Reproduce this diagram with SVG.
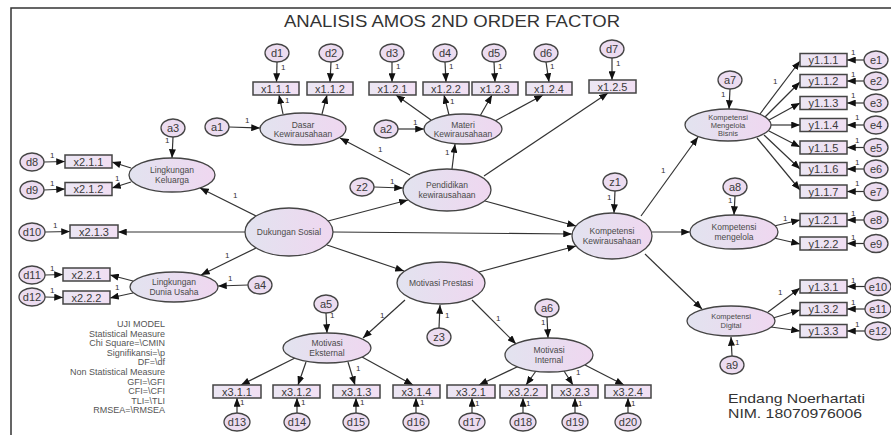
<svg xmlns="http://www.w3.org/2000/svg" width="891" height="435" viewBox="0 0 891 435">
<defs>
<linearGradient id="eg" x1="0" y1="0" x2="1" y2="0"><stop offset="0" stop-color="#e2e3ef"/><stop offset="1" stop-color="#efd7f0"/></linearGradient>
<linearGradient id="bg" x1="0" y1="0" x2="1" y2="0"><stop offset="0" stop-color="#ebe6f3"/><stop offset="1" stop-color="#f1dff3"/></linearGradient>
<marker id="ah" viewBox="0 0 10 8" refX="10" refY="4" markerWidth="9" markerHeight="7" markerUnits="userSpaceOnUse" orient="auto"><path d="M0,0 L10,4 L0,8 z" fill="#111"/></marker>
<style>
.box{fill:url(#bg);stroke:#444;stroke-width:1.5}
.lat{fill:url(#eg);stroke:#444;stroke-width:1.3}
.err{fill:#ecdcf0;stroke:#444;stroke-width:1.3}
.bt{font-family:"Liberation Sans",Arial,sans-serif;font-size:11px;fill:#3a3a3a;text-anchor:middle}
.ct{font-family:"Liberation Sans",Arial,sans-serif;font-size:11px;fill:#3a3a3a;text-anchor:middle}
.lt{font-family:"Liberation Sans",Arial,sans-serif;font-size:8.5px;fill:#4a4a4a;text-anchor:middle}
.st{font-family:"Liberation Sans",Arial,sans-serif;font-size:7.5px;fill:#4a4a4a;text-anchor:middle}
.one{font-family:"Liberation Sans",Arial,sans-serif;font-size:8px;fill:#333}
.info{font-family:"Liberation Sans",Arial,sans-serif;font-size:9px;fill:#555;text-anchor:end}
#connectors line{stroke:#333;stroke-width:1.2;marker-end:url(#ah)}
</style>
</defs>
<rect width="891" height="435" fill="#fff"/>
<path d="M11,435 L11,8 L891,8" fill="none" stroke="#333" stroke-width="1.5"/>
<text x="452" y="27" font-family="Liberation Sans,Arial,sans-serif" font-size="16.5" fill="#333" text-anchor="middle" textLength="336" lengthAdjust="spacingAndGlyphs">ANALISIS AMOS 2ND ORDER FACTOR</text>

<g id="connectors">
<line x1="277" y1="62" x2="276.5" y2="82"/>
<line x1="331" y1="62" x2="330" y2="82"/>
<line x1="283" y1="114" x2="279" y2="95"/>
<line x1="322" y1="114" x2="327" y2="95"/>
<line x1="229" y1="127" x2="260" y2="128"/>
<line x1="392" y1="62" x2="392" y2="82"/>
<line x1="445" y1="62" x2="446" y2="82"/>
<line x1="494" y1="62" x2="495" y2="82"/>
<line x1="546" y1="62" x2="549" y2="82"/>
<line x1="612" y1="58" x2="612" y2="80"/>
<line x1="431" y1="120" x2="396" y2="95"/>
<line x1="449" y1="115" x2="444" y2="95"/>
<line x1="480" y1="116" x2="492" y2="95"/>
<line x1="495" y1="121" x2="543" y2="95"/>
<line x1="484" y1="176" x2="608" y2="93"/>
<line x1="398" y1="129" x2="424" y2="129"/>
<line x1="410" y1="175" x2="340" y2="138"/>
<line x1="452" y1="169" x2="455" y2="144"/>
<line x1="374" y1="187" x2="403" y2="188"/>
<line x1="328" y1="221" x2="408" y2="200"/>
<line x1="333" y1="232" x2="572" y2="234"/>
<line x1="327" y1="245" x2="404" y2="271"/>
<line x1="256" y1="216" x2="200" y2="188"/>
<line x1="256" y1="248" x2="201" y2="275"/>
<line x1="245" y1="232" x2="118" y2="232"/>
<line x1="131" y1="168" x2="112" y2="162"/>
<line x1="131" y1="182" x2="112" y2="188"/>
<line x1="173" y1="137" x2="172" y2="158"/>
<line x1="44" y1="162" x2="65" y2="161.5"/>
<line x1="44" y1="190" x2="65" y2="189"/>
<line x1="45" y1="232" x2="70" y2="231.5"/>
<line x1="45" y1="275" x2="63" y2="274.5"/>
<line x1="45" y1="297" x2="63" y2="297.5"/>
<line x1="133" y1="281" x2="110" y2="275"/>
<line x1="133" y1="293" x2="110" y2="298"/>
<line x1="248" y1="285" x2="218" y2="286"/>
<line x1="485" y1="201" x2="576" y2="226"/>
<line x1="479" y1="272" x2="576" y2="246"/>
<line x1="615" y1="191" x2="614" y2="213"/>
<line x1="641" y1="216" x2="698" y2="137"/>
<line x1="652" y1="232" x2="690" y2="232"/>
<line x1="645" y1="254" x2="702" y2="309"/>
<line x1="760" y1="114" x2="800" y2="61"/>
<line x1="765" y1="117" x2="800" y2="82"/>
<line x1="769" y1="120" x2="800" y2="103"/>
<line x1="771" y1="125" x2="800" y2="125"/>
<line x1="769" y1="131" x2="800" y2="147"/>
<line x1="764" y1="135" x2="800" y2="169"/>
<line x1="757" y1="138" x2="800" y2="190"/>
<line x1="730" y1="89" x2="729" y2="109"/>
<line x1="864" y1="60" x2="847" y2="60"/>
<line x1="864" y1="81" x2="847" y2="81"/>
<line x1="864" y1="103" x2="847" y2="103"/>
<line x1="864" y1="125" x2="847" y2="125"/>
<line x1="864" y1="147.5" x2="847" y2="147.5"/>
<line x1="864" y1="169" x2="847" y2="169"/>
<line x1="864" y1="191.5" x2="847" y2="191.5"/>
<line x1="735" y1="196" x2="734" y2="215"/>
<line x1="774" y1="226" x2="800" y2="220"/>
<line x1="774" y1="238" x2="800" y2="244"/>
<line x1="864" y1="220" x2="847" y2="220"/>
<line x1="864" y1="243.5" x2="847" y2="243.5"/>
<line x1="768" y1="312" x2="800" y2="288"/>
<line x1="773" y1="318" x2="800" y2="310"/>
<line x1="771" y1="327" x2="800" y2="331"/>
<line x1="732" y1="356" x2="731" y2="337"/>
<line x1="865" y1="286.5" x2="847" y2="286.5"/>
<line x1="865" y1="309" x2="847" y2="309"/>
<line x1="865" y1="331" x2="847" y2="331"/>
<line x1="405" y1="300" x2="363" y2="338"/>
<line x1="472" y1="300" x2="516" y2="344"/>
<line x1="439" y1="328" x2="440" y2="305"/>
<line x1="326" y1="313" x2="327" y2="333"/>
<line x1="547" y1="317" x2="548" y2="338"/>
<line x1="295" y1="358" x2="241" y2="385"/>
<line x1="306" y1="362" x2="298" y2="385"/>
<line x1="348" y1="362" x2="355" y2="385"/>
<line x1="362" y1="357" x2="413" y2="385"/>
<line x1="519" y1="366" x2="479" y2="385"/>
<line x1="536" y1="371" x2="526" y2="385"/>
<line x1="564" y1="371" x2="573" y2="385"/>
<line x1="585" y1="365" x2="624" y2="385"/>
<line x1="237" y1="413" x2="237" y2="398"/>
<line x1="297" y1="413" x2="297" y2="398"/>
<line x1="356" y1="413" x2="356" y2="398"/>
<line x1="416" y1="413" x2="416" y2="398"/>
<line x1="472" y1="413" x2="472" y2="398"/>
<line x1="523" y1="413" x2="523" y2="398"/>
<line x1="575" y1="413" x2="575" y2="398"/>
<line x1="628" y1="413" x2="628" y2="398"/>
</g>

<g id="labels-1" class="one">
<text x="281" y="70">1</text><text x="285" y="103">1</text><text x="335" y="69">1</text>
<text x="396" y="69">1</text><text x="449" y="69">1</text><text x="498" y="69">1</text><text x="550" y="69">1</text><text x="616" y="66">1</text>
<text x="450" y="104">1</text><text x="413" y="125">1</text><text x="245" y="123">1</text>
<text x="378" y="152">1</text><text x="445" y="155">1</text><text x="390" y="184">1</text>
<text x="165" y="143">1</text><text x="50" y="158">1</text><text x="115" y="181">1</text><text x="50" y="186">1</text>
<text x="53" y="228">1</text><text x="50" y="271">1</text><text x="50" y="293">1</text>
<text x="233" y="198">1</text><text x="225" y="258">1</text><text x="115" y="290">1</text><text x="228" y="281">1</text>
<text x="607" y="200">1</text><text x="661" y="173">1</text><text x="721" y="97">1</text><text x="773" y="84">1</text>
<text x="851" y="55">1</text><text x="851" y="77">1</text><text x="851" y="98">1</text><text x="855" y="120">1</text>
<text x="855" y="143">1</text><text x="855" y="165">1</text><text x="855" y="186">1</text><text x="851" y="216">1</text>
<text x="851" y="240">1</text><text x="851" y="283">1</text><text x="851" y="305">1</text><text x="855" y="327">1</text>
<text x="728" y="203">1</text><text x="783" y="221">1</text><text x="778" y="295">1</text><text x="735" y="345">1</text>
<text x="380" y="318">1</text><text x="496" y="321">1</text><text x="445" y="318">1</text><text x="330" y="318">1</text>
<text x="541" y="325">1</text><text x="356" y="371">1</text><text x="576" y="375">1</text>
<text x="240" y="405">1</text><text x="301" y="405">1</text><text x="360" y="405">1</text><text x="420" y="405">1</text>
<text x="475" y="406">1</text><text x="526" y="406">1</text><text x="578" y="406">1</text><text x="631" y="406">1</text>
</g>

<g id="x1.1.1"><rect class="box" x="253" y="82" width="46" height="13"/><text class="bt" x="276" y="92.5">x1.1.1</text></g>
<g id="x1.1.2"><rect class="box" x="307" y="82" width="46" height="13"/><text class="bt" x="330" y="92.5">x1.1.2</text></g>
<g id="x1.2.1"><rect class="box" x="369" y="82" width="47" height="13"/><text class="bt" x="392.5" y="92.5">x1.2.1</text></g>
<g id="x1.2.2"><rect class="box" x="423" y="82" width="46" height="13"/><text class="bt" x="446" y="92.5">x1.2.2</text></g>
<g id="x1.2.3"><rect class="box" x="472" y="82" width="46" height="13"/><text class="bt" x="495" y="92.5">x1.2.3</text></g>
<g id="x1.2.4"><rect class="box" x="526" y="82" width="46" height="13"/><text class="bt" x="549" y="92.5">x1.2.4</text></g>
<g id="x1.2.5"><rect class="box" x="589" y="80" width="47" height="13"/><text class="bt" x="612.5" y="90.5">x1.2.5</text></g>

<g id="x2.1.1"><rect class="box" x="65" y="155" width="47" height="13"/><text class="bt" x="88.5" y="165.5">x2.1.1</text></g>
<g id="x2.1.2"><rect class="box" x="65" y="182.5" width="47" height="13"/><text class="bt" x="88.5" y="193">x2.1.2</text></g>
<g id="x2.1.3"><rect class="box" x="70" y="225" width="48" height="13"/><text class="bt" x="94" y="235.5">x2.1.3</text></g>
<g id="x2.2.1"><rect class="box" x="63" y="268" width="47" height="13"/><text class="bt" x="86.5" y="278.5">x2.2.1</text></g>
<g id="x2.2.2"><rect class="box" x="63" y="291" width="47" height="13"/><text class="bt" x="86.5" y="301.5">x2.2.2</text></g>

<g id="x3.1.1"><rect class="box" x="213" y="385" width="48" height="13"/><text class="bt" x="237" y="395.5">x3.1.1</text></g>
<g id="x3.1.2"><rect class="box" x="273" y="385" width="47" height="13"/><text class="bt" x="296.5" y="395.5">x3.1.2</text></g>
<g id="x3.1.3"><rect class="box" x="333" y="385" width="47" height="13"/><text class="bt" x="356.5" y="395.5">x3.1.3</text></g>
<g id="x3.1.4"><rect class="box" x="393" y="385" width="47" height="13"/><text class="bt" x="416.5" y="395.5">x3.1.4</text></g>
<g id="x3.2.1"><rect class="box" x="447" y="385" width="48" height="13"/><text class="bt" x="471" y="395.5">x3.2.1</text></g>
<g id="x3.2.2"><rect class="box" x="500" y="385" width="47" height="13"/><text class="bt" x="523.5" y="395.5">x3.2.2</text></g>
<g id="x3.2.3"><rect class="box" x="552" y="385" width="46" height="13"/><text class="bt" x="575" y="395.5">x3.2.3</text></g>
<g id="x3.2.4"><rect class="box" x="605" y="385" width="46" height="13"/><text class="bt" x="628" y="395.5">x3.2.4</text></g>

<g id="y1.1.1"><rect class="box" x="800" y="53.5" width="47" height="13"/><text class="bt" x="823.5" y="64">y1.1.1</text></g>
<g id="y1.1.2"><rect class="box" x="800" y="74.5" width="47" height="13"/><text class="bt" x="823.5" y="85">y1.1.2</text></g>
<g id="y1.1.3"><rect class="box" x="800" y="96.5" width="47" height="13"/><text class="bt" x="823.5" y="107">y1.1.3</text></g>
<g id="y1.1.4"><rect class="box" x="800" y="118.5" width="47" height="13"/><text class="bt" x="823.5" y="129">y1.1.4</text></g>
<g id="y1.1.5"><rect class="box" x="800" y="141" width="47" height="13"/><text class="bt" x="823.5" y="151.5">y1.1.5</text></g>
<g id="y1.1.6"><rect class="box" x="800" y="162.5" width="47" height="13"/><text class="bt" x="823.5" y="173">y1.1.6</text></g>
<g id="y1.1.7"><rect class="box" x="800" y="185" width="47" height="13"/><text class="bt" x="823.5" y="195.5">y1.1.7</text></g>
<g id="y1.2.1"><rect class="box" x="800" y="213.5" width="47" height="13"/><text class="bt" x="823.5" y="224">y1.2.1</text></g>
<g id="y1.2.2"><rect class="box" x="800" y="237" width="47" height="13"/><text class="bt" x="823.5" y="247.5">y1.2.2</text></g>
<g id="y1.3.1"><rect class="box" x="800" y="280" width="47" height="13"/><text class="bt" x="823.5" y="290.5">y1.3.1</text></g>
<g id="y1.3.2"><rect class="box" x="800" y="302.5" width="47" height="13"/><text class="bt" x="823.5" y="313">y1.3.2</text></g>
<g id="y1.3.3"><rect class="box" x="800" y="324.5" width="47" height="13"/><text class="bt" x="823.5" y="335">y1.3.3</text></g>

<g id="DasarKewirausahaan"><ellipse class="lat" cx="303" cy="129" rx="43" ry="16"/><text class="lt" x="303" y="127.5">Dasar</text><text class="lt" x="303" y="137">Kewirausahaan</text></g>
<g id="MateriKewirausahaan"><ellipse class="lat" cx="463" cy="129" rx="39" ry="15"/><text class="lt" x="463" y="127.5">Materi</text><text class="lt" x="463" y="137">Kewirausahaan</text></g>
<g id="PendidikanKewirausahaan"><ellipse class="lat" cx="447" cy="190" rx="44" ry="21"/><text class="lt" x="447" y="188">Pendidikan</text><text class="lt" x="447" y="197.5">kewirausahaan</text></g>
<g id="DukunganSosial"><ellipse class="lat" cx="289" cy="232" rx="44" ry="24"/><text class="lt" x="289" y="235">Dukungan Sosial</text></g>
<g id="LingkunganKeluarga"><ellipse class="lat" cx="172" cy="175" rx="43" ry="17"/><text class="lt" x="172" y="173">Lingkungan</text><text class="lt" x="172" y="182.5">Keluarga</text></g>
<g id="LingkunganDuniaUsaha"><ellipse class="lat" cx="174" cy="287" rx="44" ry="15"/><text class="lt" x="174" y="285">Lingkungan</text><text class="lt" x="174" y="294.5">Dunia Usaha</text></g>
<g id="MotivasiPrestasi"><ellipse class="lat" cx="441" cy="283" rx="44" ry="21"/><text class="lt" x="441" y="286">Motivasi Prestasi</text></g>
<g id="MotivasiEksternal"><ellipse class="lat" cx="327" cy="348" rx="44" ry="15"/><text class="lt" x="327" y="346">Motivasi</text><text class="lt" x="327" y="355.5">Eksternal</text></g>
<g id="MotivasiInternal"><ellipse class="lat" cx="549" cy="355" rx="44" ry="17"/><text class="lt" x="549" y="353">Motivasi</text><text class="lt" x="549" y="362.5">Internal</text></g>
<g id="KompetensiKewirausahaan"><ellipse class="lat" cx="612" cy="236" rx="40" ry="23"/><text class="lt" x="612" y="234">Kompetensi</text><text class="lt" x="612" y="243.5">Kewirausahaan</text></g>
<g id="KompetensiMengelolaBisnis"><ellipse class="lat" cx="728" cy="125" rx="43" ry="16"/><text class="st" x="728" y="120">Kompetensi</text><text class="st" x="728" y="128">Mengelola</text><text class="st" x="728" y="136">Bisnis</text></g>
<g id="KompetensiMengelola"><ellipse class="lat" cx="734" cy="232" rx="44" ry="17"/><text class="lt" x="734" y="230">Kompetensi</text><text class="lt" x="734" y="239.5">mengelola</text></g>
<g id="KompetensiDigital"><ellipse class="lat" cx="731" cy="321" rx="44" ry="15"/><text class="st" x="731" y="319">Kompetensi</text><text class="st" x="731" y="328">Digital</text></g>

<g id="d1"><ellipse class="err" cx="277" cy="53" rx="12" ry="9"/><text class="ct" x="277" y="57">d1</text></g>
<g id="d2"><ellipse class="err" cx="331" cy="53" rx="12" ry="9"/><text class="ct" x="331" y="57">d2</text></g>
<g id="d3"><ellipse class="err" cx="392" cy="53" rx="12" ry="9"/><text class="ct" x="392" y="57">d3</text></g>
<g id="d4"><ellipse class="err" cx="445" cy="53" rx="12" ry="9"/><text class="ct" x="445" y="57">d4</text></g>
<g id="d5"><ellipse class="err" cx="494" cy="53" rx="12" ry="9"/><text class="ct" x="494" y="57">d5</text></g>
<g id="d6"><ellipse class="err" cx="546" cy="53" rx="12" ry="9"/><text class="ct" x="546" y="57">d6</text></g>
<g id="d7"><ellipse class="err" cx="612" cy="49" rx="12" ry="9"/><text class="ct" x="612" y="53">d7</text></g>
<g id="a1"><ellipse class="err" cx="217" cy="127" rx="12" ry="9"/><text class="ct" x="217" y="131">a1</text></g>
<g id="a2"><ellipse class="err" cx="386" cy="129" rx="12" ry="9"/><text class="ct" x="386" y="133">a2</text></g>
<g id="a3"><ellipse class="err" cx="173" cy="128" rx="12" ry="9"/><text class="ct" x="173" y="132">a3</text></g>
<g id="a4"><ellipse class="err" cx="260" cy="285" rx="12" ry="9"/><text class="ct" x="260" y="289">a4</text></g>
<g id="a5"><ellipse class="err" cx="326" cy="304" rx="12" ry="9"/><text class="ct" x="326" y="308">a5</text></g>
<g id="a6"><ellipse class="err" cx="547" cy="308" rx="12" ry="9"/><text class="ct" x="547" y="312">a6</text></g>
<g id="a7"><ellipse class="err" cx="730" cy="80" rx="12" ry="9"/><text class="ct" x="730" y="84">a7</text></g>
<g id="a8"><ellipse class="err" cx="735" cy="187" rx="12" ry="9"/><text class="ct" x="735" y="191">a8</text></g>
<g id="a9"><ellipse class="err" cx="732" cy="365" rx="12" ry="9"/><text class="ct" x="732" y="369">a9</text></g>
<g id="z1"><ellipse class="err" cx="615" cy="182" rx="12" ry="9"/><text class="ct" x="615" y="186">z1</text></g>
<g id="z2"><ellipse class="err" cx="362" cy="187" rx="12" ry="9"/><text class="ct" x="362" y="191">z2</text></g>
<g id="z3"><ellipse class="err" cx="439" cy="337" rx="12" ry="9"/><text class="ct" x="439" y="341">z3</text></g>
<g id="d8"><ellipse class="err" cx="32" cy="162" rx="12" ry="9"/><text class="ct" x="32" y="166">d8</text></g>
<g id="d9"><ellipse class="err" cx="32" cy="190" rx="12" ry="9"/><text class="ct" x="32" y="194">d9</text></g>
<g id="d10"><ellipse class="err" cx="32" cy="232" rx="13" ry="9"/><text class="ct" x="32" y="236">d10</text></g>
<g id="d11"><ellipse class="err" cx="32" cy="275" rx="13" ry="9"/><text class="ct" x="32" y="279">d11</text></g>
<g id="d12"><ellipse class="err" cx="32" cy="297" rx="13" ry="9"/><text class="ct" x="32" y="301">d12</text></g>
<g id="d13"><ellipse class="err" cx="237" cy="422" rx="13" ry="9"/><text class="ct" x="237" y="426">d13</text></g>
<g id="d14"><ellipse class="err" cx="297" cy="422" rx="13" ry="9"/><text class="ct" x="297" y="426">d14</text></g>
<g id="d15"><ellipse class="err" cx="356" cy="422" rx="13" ry="9"/><text class="ct" x="356" y="426">d15</text></g>
<g id="d16"><ellipse class="err" cx="416" cy="422" rx="13" ry="9"/><text class="ct" x="416" y="426">d16</text></g>
<g id="d17"><ellipse class="err" cx="472" cy="422" rx="13" ry="9"/><text class="ct" x="472" y="426">d17</text></g>
<g id="d18"><ellipse class="err" cx="523" cy="422" rx="13" ry="9"/><text class="ct" x="523" y="426">d18</text></g>
<g id="d19"><ellipse class="err" cx="575" cy="422" rx="13" ry="9"/><text class="ct" x="575" y="426">d19</text></g>
<g id="d20"><ellipse class="err" cx="628" cy="422" rx="13" ry="9"/><text class="ct" x="628" y="426">d20</text></g>
<g id="e1"><ellipse class="err" cx="876" cy="60" rx="12" ry="9"/><text class="ct" x="876" y="64">e1</text></g>
<g id="e2"><ellipse class="err" cx="876" cy="81" rx="12" ry="9"/><text class="ct" x="876" y="85">e2</text></g>
<g id="e3"><ellipse class="err" cx="876" cy="103" rx="12" ry="9"/><text class="ct" x="876" y="107">e3</text></g>
<g id="e4"><ellipse class="err" cx="876" cy="125" rx="12" ry="9"/><text class="ct" x="876" y="129">e4</text></g>
<g id="e5"><ellipse class="err" cx="876" cy="147.5" rx="12" ry="9"/><text class="ct" x="876" y="151.5">e5</text></g>
<g id="e6"><ellipse class="err" cx="876" cy="169" rx="12" ry="9"/><text class="ct" x="876" y="173">e6</text></g>
<g id="e7"><ellipse class="err" cx="876" cy="191.5" rx="12" ry="9"/><text class="ct" x="876" y="195.5">e7</text></g>
<g id="e8"><ellipse class="err" cx="876" cy="220" rx="12" ry="9"/><text class="ct" x="876" y="224">e8</text></g>
<g id="e9"><ellipse class="err" cx="876" cy="243.5" rx="12" ry="9"/><text class="ct" x="876" y="247.5">e9</text></g>
<g id="e10"><ellipse class="err" cx="878" cy="286.5" rx="13" ry="9"/><text class="ct" x="878" y="290.5">e10</text></g>
<g id="e11"><ellipse class="err" cx="878" cy="309" rx="13" ry="9"/><text class="ct" x="878" y="313">e11</text></g>
<g id="e12"><ellipse class="err" cx="878" cy="331" rx="13" ry="9"/><text class="ct" x="878" y="335">e12</text></g>

<g id="uji-model" class="info">
<text x="165" y="327">UJI MODEL</text>
<text x="165" y="336.6">Statistical Measure</text>
<text x="165" y="346.2">Chi Square=\CMIN</text>
<text x="165" y="355.8">Signifikansi=\p</text>
<text x="165" y="365.4">DF=\df</text>
<text x="165" y="375">Non Statistical Measure</text>
<text x="165" y="384.6">GFI=\GFI</text>
<text x="165" y="394.2">CFI=\CFI</text>
<text x="165" y="403.8">TLI=\TLI</text>
<text x="165" y="413.4">RMSEA=\RMSEA</text>
</g>
<g id="author" font-family="Liberation Sans,Arial,sans-serif" font-size="13" fill="#333">
<text x="728" y="403" textLength="137" lengthAdjust="spacingAndGlyphs">Endang Noerhartati</text>
<text x="728" y="418" textLength="134" lengthAdjust="spacingAndGlyphs">NIM. 18070976006</text>
</g>
</svg>
